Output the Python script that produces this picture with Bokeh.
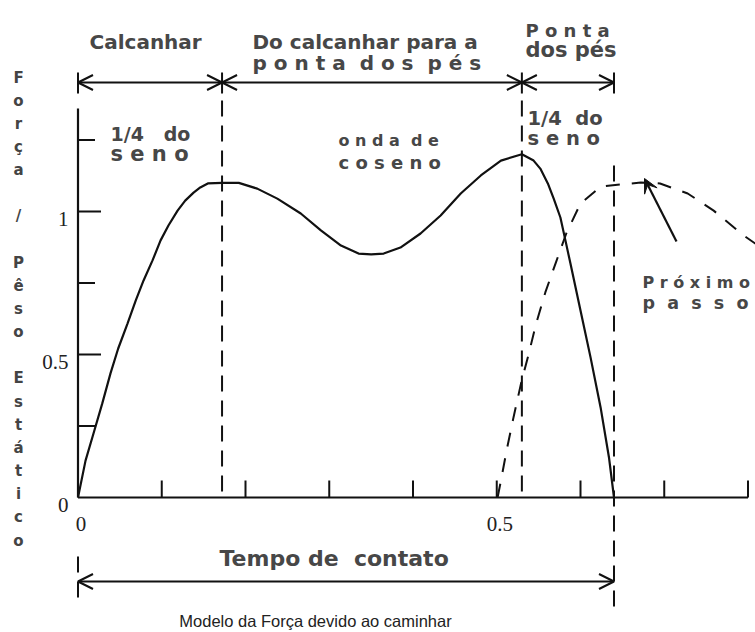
from bokeh.plotting import figure
from bokeh.models import Range1d, Arrow, OpenHead, VeeHead
from bokeh.embed import file_html
from bokeh.resources import INLINE
from bokeh.core.properties import value

# ---- data -------------------------------------------------------------
# Force / static weight over one footstep (heel, heel-to-toe, toe phases)
step_t = [0.0, 0.009, 0.0185, 0.029, 0.0388, 0.048, 0.0591, 0.069, 0.0783,
          0.089, 0.0986, 0.108, 0.1189, 0.128, 0.138, 0.146, 0.155, 0.172,
          0.192, 0.214, 0.238, 0.266, 0.290, 0.314, 0.335, 0.35, 0.365,
          0.385, 0.409, 0.433, 0.457, 0.481, 0.505, 0.53, 0.544, 0.552,
          0.561, 0.568, 0.576, 0.582, 0.588, 0.600, 0.612, 0.624, 0.634, 0.64]
step_f = [0.0, 0.129, 0.224, 0.329, 0.434, 0.521, 0.608, 0.689, 0.759,
          0.829, 0.899, 0.951, 1.003, 1.038, 1.066, 1.084, 1.098, 1.10,
          1.10, 1.080, 1.045, 0.993, 0.934, 0.881, 0.853, 0.85, 0.853,
          0.874, 0.923, 0.986, 1.063, 1.126, 1.178, 1.20, 1.178, 1.150,
          1.098, 1.045, 0.979, 0.899, 0.818, 0.654, 0.490, 0.315, 0.140, 0.0]

# Following footstep (starts before the current contact ends)
next_t = [0.501, 0.505, 0.512, 0.520, 0.529, 0.538, 0.547, 0.558, 0.571,
          0.583, 0.600, 0.624, 0.648, 0.672, 0.695, 0.728, 0.759, 0.795, 0.812]
next_f = [0.0, 0.059, 0.168, 0.28, 0.399, 0.50, 0.608, 0.717, 0.825,
          0.923, 1.028, 1.087, 1.095, 1.101, 1.098, 1.063, 1.003, 0.916, 0.881]

# Phase boundaries: heel / heel-to-toe / toe
phase_bounds = [0.0, 0.172, 0.53, 0.64]

x_ticks = [0.0, 0.1, 0.2, 0.3, 0.4, 0.5, 0.6, 0.7, 0.8]
x_tick_labels = ["0", "", "", "", "", "0.5", "", "", ""]
y_ticks = [0.25, 0.5, 0.75, 1.0, 1.25]
y_tick_major = [False, True, False, True, False]
y_label_values = [0.0, 0.5, 1.0]
y_label_texts = ["0", "0.5", "1"]
y_title_words = ["Força", "/", "Pêso", "Estático"]

# ---- canvas geometry (pixels -> data) ---------------------------------
W, H = 755, 632
X0, XS = 77.5, 837.5     # pixel of t=0, pixels per unit time
Y0, YS = 497.0, 286.0    # pixel of F=0, pixels per unit force
NB = "\u00a0"            # non-collapsing space for wide gaps


def dx(px):
    return (px - X0) / XS


def dy(py):
    return (Y0 - py) / YS


INK = "#111111"
TXT = "#474747"

p = figure(width=W, height=H, output_backend="svg", toolbar_location=None,
           x_axis_location=None, y_axis_location=None, min_border=0,
           x_range=Range1d(dx(0), dx(W)), y_range=Range1d(dy(H), dy(0)))
p.outline_line_color = None
p.grid.grid_line_color = None
p.background_fill_color = "white"
p.border_fill_color = "white"

# ---- axes drawn at t=0 / F=0 ------------------------------------------
y_top = dy(108)
p.segment(x0=[0], y0=[0], x1=[0], y1=[y_top], line_color=INK, line_width=2.2)
p.segment(x0=[0], y0=[0], x1=[x_ticks[-1]], y1=[0], line_color=INK, line_width=2.2)

xt = x_ticks[1:]
p.segment(x0=xt, y0=[0] * len(xt), x1=xt, y1=[17 / YS] * len(xt),
          line_color=INK, line_width=2)
p.segment(x0=[0] * len(y_ticks), y0=y_ticks,
          x1=[(23 if m else 17) / XS for m in y_tick_major], y1=y_ticks,
          line_color=INK, line_width=2)

lab_x = [t + 3 / XS for t, s in zip(x_ticks, x_tick_labels) if s]
lab_s = [s for s in x_tick_labels if s]
p.text(x=lab_x, y=[dy(523)] * len(lab_s), text=lab_s,
       text_font=value("Liberation Serif"), text_font_size="21px",
       text_align="center", text_baseline="alphabetic", text_color="#222222")
p.text(x=[dx(68)] * len(y_label_values),
       y=[v - 7 / YS for v in y_label_values], text=y_label_texts,
       text_font=value("Liberation Serif"), text_font_size="21px",
       text_align="right", text_baseline="alphabetic", text_color="#222222")

# stacked vertical axis title
letters, rows = [], []
row = 0
for w in y_title_words:
    for ch in w:
        letters.append(ch)
        rows.append(row)
        row += 1
    row += 1
p.text(x=[dx(18)] * len(letters), y=[dy(77 + 23.15 * r) for r in rows],
       text=letters, text_font=value("DejaVu Sans"), text_font_style="bold",
       text_font_size="15px", text_align="center", text_baseline="alphabetic",
       text_color="#444444")

# ---- phase markers -------------------------------------------------------
y_bar0, y_bar1 = dy(93), dy(72)
p.segment(x0=phase_bounds, y0=[y_bar0] * 4, x1=phase_bounds, y1=[y_bar1] * 4,
          line_color=INK, line_width=2)
p.segment(x0=phase_bounds[1:3], y0=[dy(100)] * 2, x1=phase_bounds[1:3],
          y1=[0, 0], line_color=INK, line_width=2, line_dash="16 9")
p.segment(x0=[phase_bounds[3]], y0=[dy(165)], x1=[phase_bounds[3]],
          y1=[dy(606)], line_color=INK, line_width=2, line_dash="16 9")
p.segment(x0=[phase_bounds[0]], y0=[dy(556)], x1=[phase_bounds[0]],
          y1=[dy(604)], line_color=INK, line_width=2, line_dash="16 9")

y_arrow = dy(82)
for a, b in zip(phase_bounds[:-1], phase_bounds[1:]):
    p.add_layout(Arrow(x_start=a, y_start=y_arrow, x_end=b, y_end=y_arrow,
                       start=OpenHead(size=15, line_width=2, line_color=INK),
                       end=OpenHead(size=15, line_width=2, line_color=INK),
                       line_width=2, line_color=INK))

# contact time span
y_span = dy(581)
p.add_layout(Arrow(x_start=phase_bounds[0], y_start=y_span,
                   x_end=phase_bounds[-1], y_end=y_span,
                   start=OpenHead(size=15, line_width=2, line_color=INK),
                   end=OpenHead(size=15, line_width=2, line_color=INK),
                   line_width=2, line_color=INK))

# ---- curves ---------------------------------------------------------------
p.line(next_t, next_f, line_color=INK, line_width=2, line_dash="14 12")
p.line(step_t, step_f, line_color=INK, line_width=2.2)

# pointer to the next footstep
p.add_layout(Arrow(x_start=dx(676), y_start=dy(241), x_end=dx(644), y_end=dy(178),
                   end=VeeHead(size=14, fill_color=INK, line_color=INK),
                   line_width=2.2, line_color=INK))

# ---- annotation texts -------------------------------------------------------
notes = [
    ("Calcanhar", 89, 41, 20),
    ("Do calcanhar para a", 252, 41, 20),
    (f"p o n t a {NB}d o s {NB}p é s", 252, 62, 20),
    ("P o n t a", 525, 30, 18),
    ("dos pés", 525, 49, 21),
    (f"1/4 {NB}{NB}do", 110, 133, 19),
    ("s e n o", 110, 153, 21),
    (f"o n d a {NB}d e", 338, 140, 16),
    ("c o s e n o", 338, 162, 18),
    (f"1/4 {NB}do", 527, 118, 19.5),
    ("s e n o", 527, 138, 19.5),
    ("P r ó x i m o", 642, 282, 16),
    (f"p {NB}a {NB}s {NB}s {NB}o", 642, 302, 17.5),
    (f"Tempo de {NB}contato", 219, 558, 22),
]
for txt, lx, by, fs in notes:
    p.text(x=[dx(lx)], y=[dy(by)], text=[txt], text_font=value("DejaVu Sans"),
           text_font_style="bold", text_font_size=f"{fs}px", text_align="left",
           text_baseline="alphabetic", text_color=TXT)

p.text(x=[dx(315)], y=[dy(620)], text=["Modelo da Força devido ao caminhar"],
       text_font=value("Liberation Sans"), text_font_size="16.5px",
       text_align="center", text_baseline="alphabetic", text_color="#222222")

open("out.html", "w").write(file_html(p, INLINE))
